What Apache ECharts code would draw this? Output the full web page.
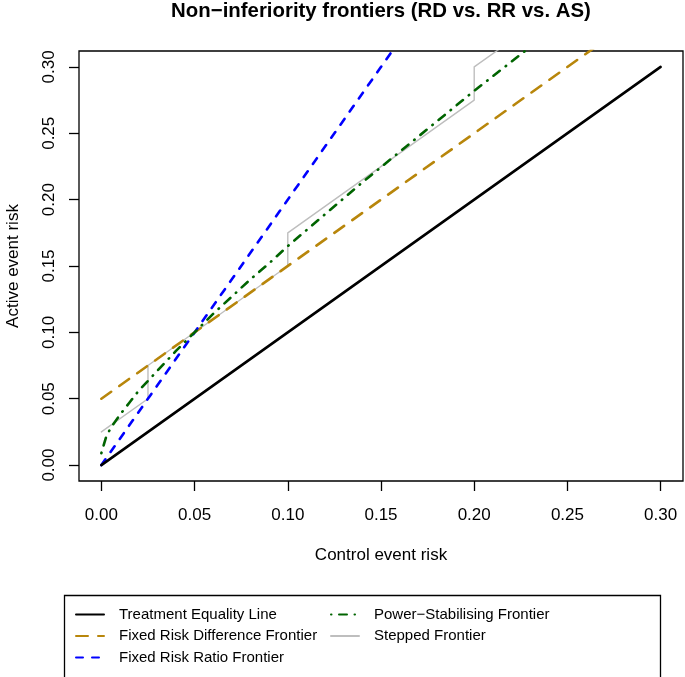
<!DOCTYPE html>
<html>
<head>
<meta charset="utf-8">
<style>html,body{margin:0;padding:0;background:#fff;}#chart{width:685px;height:677px;}</style>
<script src="https://cdn.jsdelivr.net/npm/echarts@6/dist/echarts.min.js"></script>
</head>
<body>
<div id="chart"></div>
<script>
// ---- data ----
const tickVals = [0, 0.05, 0.10, 0.15, 0.20, 0.25, 0.30];
const tickLabels = ['0.00', '0.05', '0.10', '0.15', '0.20', '0.25', '0.30'];

const seriesNames = [
  'Treatment Equality Line',
  'Fixed Risk Difference Frontier',
  'Fixed Risk Ratio Frontier',
  'Power\u2212Stabilising Frontier',
  'Stepped Frontier'
];

// Treatment equality line
const eqX = [0, 0.30];
const eqY = [0, 0.30];
// Fixed risk difference frontier
const rdX = [0, 0.30];
const rdY = [0.05, 0.35];
// Fixed risk ratio frontier
const rrX = [0, 0.30];
const rrY = [0, 0.60];
// Power-stabilising frontier
const psX = [0, 0.0025, 0.005, 0.01, 0.015, 0.02, 0.03, 0.04, 0.05, 0.06, 0.07, 0.08, 0.09, 0.10, 0.12, 0.14, 0.16, 0.18, 0.20, 0.22, 0.24];
const psY = [0.009, 0.021, 0.028, 0.038, 0.047, 0.056, 0.071, 0.086, 0.100, 0.114, 0.127, 0.140, 0.152, 0.165, 0.189, 0.213, 0.236, 0.259, 0.282, 0.304, 0.326];
// Stepped frontier
const stX = [0, 0.025, 0.025, 0.10, 0.10, 0.20, 0.20, 0.30];
const stY = [0.025, 0.050, 0.075, 0.150, 0.175, 0.275, 0.300, 0.400];

const zip = (xs, ys) => xs.map((x, i) => [x, ys[i]]);

const FONT = '"Liberation Sans", Arial, Helvetica, sans-serif';

const chart = echarts.init(document.getElementById('chart'), null, {renderer: 'canvas'});

function lineSeries(name, xs, ys, color, width, type, z) {
  return {
    name: name,
    type: 'line',
    data: zip(xs, ys),
    symbol: 'none',
    showSymbol: false,
    clip: true,
    silent: true,
    animation: false,
    z: z,
    lineStyle: {color: color, width: width, type: type, cap: 'round', join: 'round'},
    itemStyle: {color: color}
  };
}

const axisCommon = {
  type: 'value',
  min: -0.012,
  max: 0.312,
  axisLine: {show: false, onZero: false},
  splitLine: {show: false},
  axisTick: {show: true, inside: false, length: 10, lineStyle: {color: '#000', width: 1.3}, customValues: tickVals},
  axisLabel: {
    show: true,
    customValues: tickVals,
    color: '#000',
    fontSize: 17,
    fontFamily: FONT,
    formatter: v => tickLabels[tickVals.findIndex(t => Math.abs(t - v) < 1e-9)] ?? v.toFixed(2)
  },
  nameTextStyle: {color: '#000', fontSize: 17, fontFamily: FONT},
  nameLocation: 'middle'
};

const legendCommon = {
  orient: 'vertical',
  top: 607, padding: 0,
  itemWidth: 28, itemHeight: 14, itemGap: 6.5,
  selectedMode: false,
  itemStyle: {opacity: 0},
  textStyle: {fontSize: 15, fontFamily: FONT, color: '#000', padding: [0, 0, 0, 10], lineHeight: 14}
};

const option = {
  backgroundColor: '#ffffff',
  animation: false,
  title: {
    text: 'Non\u2212inferiority frontiers (RD vs. RR vs. AS)',
    left: 381,
    top: 1,
    padding: 0,
    textAlign: 'center',
    textStyle: {fontSize: 20.4, fontWeight: 'bold', color: '#000', fontFamily: FONT}
  },
  grid: {
    left: 79, right: 2, top: 51, bottom: 196,
    outerBoundsMode: 'none',
    containLabel: false,
    show: true, borderColor: '#000', borderWidth: 1.3, backgroundColor: 'transparent'
  },
  xAxis: Object.assign({}, axisCommon, {
    name: 'Control event risk',
    nameGap: 66,
    axisLabel: Object.assign({}, axisCommon.axisLabel, {margin: 26})
  }),
  yAxis: Object.assign({}, axisCommon, {
    name: 'Active event risk',
    nameGap: 57,
    nameRotate: 90,
    axisLabel: Object.assign({}, axisCommon.axisLabel, {margin: 21, rotate: 90})
  }),
  legend: [
    Object.assign({}, legendCommon, {data: seriesNames.slice(0, 3), left: 75}),
    Object.assign({}, legendCommon, {data: seriesNames.slice(3), left: 330})
  ],
  graphic: [
    {type: 'rect', left: 62, top: 593, shape: {width: 596, height: 83}, style: {fill: 'none', stroke: '#000', lineWidth: 1.3}, silent: true}
  ],
  series: [
    lineSeries(seriesNames[0], eqX, eqY, '#000000', 2.6, 'solid', 5),
    lineSeries(seriesNames[1], rdX, rdY, '#B8860B', 2.6, [12, 10], 4),
    lineSeries(seriesNames[2], rrX, rrY, '#0000FF', 2.6, [7, 9], 4),
    lineSeries(seriesNames[3], psX, psY, '#006400', 2.6, [0.5, 7.5, 8, 7.5], 4),
    lineSeries(seriesNames[4], stX, stY, '#BEBEBE', 1.4, 'solid', 3)
  ]
};

chart.setOption(option);
</script>
</body>
</html>
